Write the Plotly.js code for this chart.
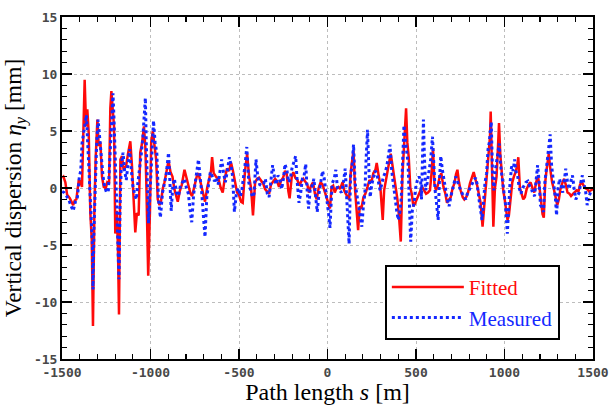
<!DOCTYPE html>
<html>
<head>
<meta charset="utf-8">
<script src="https://cdn.plot.ly/plotly-3.0.1.min.js"></script>
<style>html,body{margin:0;padding:0;background:#fff;}#chart{width:609px;height:405px;}</style>
</head>
<body>
<div id="chart"></div>
<script>
// Fitted vertical dispersion: [path length s (m), eta_y (mm)]
const fitted = [
[-1499,0.9],[-1492,1.0],[-1481,0.5],[-1471,-0.6],[-1456,-0.9],[-1447,-1.2],[-1437,-1.5],[-1428,-1.1],[-1419,-1.0],[-1405,0.7],
[-1398,0.6],[-1387,0.1],[-1379,6.0],[-1372,9.5],[-1364,5.4],[-1357,6.9],[-1349,4.8],[-1340,-2.2],[-1332,-4.5],[-1325,-12.1],
[-1317,-2.0],[-1310,2.5],[-1300,6.0],[-1293,3.7],[-1283,4.0],[-1274,1.0],[-1264,0.1],[-1253,0.0],[-1244,0.5],[-1234,0.4],
[-1227,7.0],[-1221,8.5],[-1214,7.0],[-1206,5.4],[-1199,-4.0],[-1191,-2.0],[-1184,-5.1],[-1178,-11.1],[-1170,2.5],[-1161,2.8],
[-1152,1.6],[-1138,1.9],[-1127,3.0],[-1114,4.1],[-1105,2.0],[-1095,-1.3],[-1086,-3.9],[-1077,-2.2],[-1067,-2.4],[-1058,3.1],
[-1048,3.9],[-1037,5.4],[-1029,3.5],[-1024,0.7],[-1013,-7.7],[-1003,-2.0],[-996,4.0],[-987,5.0],[-977,3.5],[-968,2.5],
[-959,-1.0],[-949,-1.5],[-940,-1.1],[-930,0.0],[-921,0.5],[-908,1.5],[-898,2.4],[-887,1.4],[-876,1.0],[-865,-0.1],
[-855,-0.6],[-846,-1.2],[-835,-0.3],[-823,0.3],[-808,1.6],[-797,0.9],[-786,0.3],[-774,-0.5],[-765,-0.7],[-752,0.2],
[-739,1.0],[-729,1.3],[-718,0.5],[-705,-0.4],[-692,-1.2],[-680,0.0],[-669,0.8],[-658,1.5],[-652,2.7],[-643,1.3],
[-630,1.0],[-616,0.8],[-603,0.0],[-592,-0.4],[-581,0.8],[-568,1.7],[-556,1.5],[-545,2.2],[-534,1.5],[-522,0.5],
[-511,-0.4],[-500,-0.6],[-489,-1.2],[-479,-1.3],[-466,1.5],[-454,3.0],[-443,1.0],[-432,0.0],[-421,-2.4],[-409,0.5],
[-398,0.8],[-387,0.9],[-375,0.6],[-364,0.4],[-353,-0.1],[-342,-0.3],[-330,-0.5],[-319,0.3],[-308,0.5],[-296,0.8],
[-285,0.6],[-274,0.1],[-263,0.6],[-251,0.9],[-240,1.5],[-231,1.3],[-221,-0.3],[-214,-0.9],[-202,1.0],[-193,1.4],
[-182,0.9],[-170,0.7],[-159,0.2],[-148,0.6],[-137,0.8],[-125,0.5],[-114,0.3],[-105,-0.4],[-93,0.2],[-82,0.5],
[-71,-0.5],[-61,-1.0],[-50,0.0],[-39,0.5],[-28,0.3],[-16,-0.3],[-7,-0.7],[4,-1.3],[14,-1.8],[23,0.1],
[32,0.2],[41,-0.4],[51,0.0],[62,0.1],[71,-0.1],[85,0.5],[94,-0.2],[103,-0.5],[113,-0.8],[122,-1.0],
[132,1.5],[141,2.8],[147,3.3],[156,-0.2],[165,-2.5],[173,-3.7],[182,-1.6],[192,-1.8],[203,-0.8],[214,-0.5],
[226,0.1],[237,0.7],[248,0.5],[259,1.3],[271,1.6],[278,2.2],[288,1.2],[297,0.4],[306,-1.5],[312,-2.8],
[320,-0.2],[331,0.8],[340,1.3],[350,2.5],[357,3.0],[367,2.0],[376,1.0],[385,0.1],[395,-1.0],[404,-2.5],
[414,-4.7],[423,1.0],[431,3.0],[438,5.0],[444,7.0],[451,4.0],[459,2.7],[468,0.0],[476,-0.5],[485,-1.6],
[494,-1.4],[504,-1.0],[515,-0.6],[526,-0.2],[534,0.1],[546,-0.2],[557,-0.5],[568,-0.4],[579,-0.2],[589,1.5],
[596,3.5],[604,0.4],[613,-0.2],[623,0.2],[634,1.0],[643,1.3],[655,0.1],[666,-0.5],[675,-1.3],[687,-1.0],
[696,-0.8],[707,0.0],[717,0.4],[726,1.2],[734,1.6],[743,0.5],[752,-0.2],[764,-0.8],[773,-1.0],[784,-0.8],
[794,-0.4],[805,0.4],[816,1.0],[826,1.4],[835,0.8],[846,0.2],[856,-0.6],[865,-1.3],[876,-3.4],[884,-2.0],
[893,-0.2],[903,1.5],[910,2.7],[918,4.5],[922,6.7],[929,1.0],[937,-3.4],[946,0.0],[955,1.0],[963,3.5],
[969,5.7],[976,3.0],[984,1.3],[993,-0.2],[1001,-1.0],[1010,-1.8],[1017,-2.8],[1025,-2.4],[1034,-1.0],[1044,0.5],
[1053,1.0],[1063,1.4],[1072,2.0],[1078,2.7],[1087,0.0],[1096,-0.5],[1106,-1.0],[1115,-0.8],[1125,-0.1],[1136,0.3],
[1147,0.5],[1158,0.0],[1168,-0.4],[1179,0.5],[1189,1.1],[1198,0.0],[1207,-1.0],[1215,-2.3],[1222,-2.6],[1230,0.5],
[1237,1.5],[1245,2.7],[1250,3.0],[1260,1.5],[1269,0.5],[1279,-0.1],[1288,-0.8],[1298,-1.5],[1307,-1.0],[1316,-0.1],
[1328,0.5],[1337,0.8],[1346,0.3],[1356,-0.4],[1367,-0.5],[1376,-0.7],[1388,-0.5],[1397,-0.4],[1408,-0.2],[1418,-0.3],
[1427,0.3],[1437,0.5],[1446,0.2],[1455,0.0],[1467,-0.1],[1478,-0.3],[1489,-0.2],[1500,-0.1]
];

// Measured vertical dispersion: [path length s (m), eta_y (mm)]
const measured = [
[-1499,-0.3],[-1488,-0.4],[-1475,-0.7],[-1462,-1.0],[-1451,-1.5],[-1437,-2.0],[-1424,-1.2],[-1413,-0.8],[-1402,1.0],[-1394,1.5],
[-1387,3.9],[-1377,4.8],[-1368,5.5],[-1362,6.4],[-1355,4.0],[-1349,1.5],[-1342,-1.0],[-1334,-3.0],[-1328,-5.1],[-1325,-8.9],
[-1319,-3.4],[-1311,1.6],[-1304,4.0],[-1296,6.0],[-1287,4.2],[-1278,3.2],[-1268,1.0],[-1259,0.1],[-1248,-0.4],[-1238,-0.2],
[-1229,3.0],[-1221,5.4],[-1212,8.3],[-1206,6.0],[-1199,2.5],[-1191,-1.0],[-1185,-3.9],[-1178,-8.0],[-1172,-1.6],[-1165,2.0],
[-1155,3.1],[-1146,1.5],[-1137,0.7],[-1127,2.0],[-1118,3.4],[-1108,1.5],[-1099,0.1],[-1090,-0.5],[-1080,-1.0],[-1071,0.5],
[-1061,1.6],[-1052,3.0],[-1043,4.5],[-1035,6.5],[-1029,7.9],[-1024,4.0],[-1018,0.7],[-1011,-3.1],[-1003,-0.5],[-991,4.0],
[-983,5.9],[-974,4.0],[-964,3.0],[-955,-1.0],[-944,-2.6],[-932,-0.4],[-921,0.5],[-912,1.1],[-898,3.1],[-891,0.5],
[-883,-2.0],[-874,0.2],[-865,0.8],[-853,-0.4],[-842,-0.7],[-831,0.2],[-819,0.5],[-808,0.8],[-797,0.0],[-786,-0.5],
[-776,-2.0],[-767,-3.0],[-756,-0.5],[-744,0.8],[-737,1.8],[-729,2.5],[-720,1.0],[-710,-0.5],[-701,-2.5],[-692,-4.3],
[-682,-0.8],[-673,0.3],[-662,1.4],[-650,1.0],[-639,0.6],[-628,0.9],[-618,0.3],[-607,1.5],[-598,2.5],[-586,1.2],
[-577,0.5],[-566,1.5],[-554,2.7],[-545,2.0],[-536,1.0],[-526,-2.1],[-515,-0.5],[-504,0.0],[-492,-0.7],[-484,-0.2],
[-475,0.8],[-466,2.0],[-456,3.6],[-445,0.5],[-436,-0.1],[-424,-0.8],[-415,-0.5],[-404,2.5],[-394,1.0],[-383,0.3],
[-372,0.2],[-360,0.4],[-351,0.8],[-340,-0.5],[-330,-0.8],[-319,1.0],[-310,2.0],[-300,1.0],[-291,0.3],[-280,1.1],
[-270,0.8],[-259,-0.1],[-249,0.8],[-240,2.1],[-229,1.5],[-219,0.5],[-210,0.8],[-201,1.7],[-191,2.2],[-180,2.8],
[-171,0.5],[-161,-1.3],[-152,-0.5],[-142,0.8],[-133,1.0],[-123,2.1],[-114,-0.5],[-107,-1.8],[-97,0.0],[-86,0.2],
[-77,0.8],[-67,-0.8],[-58,-2.1],[-48,-0.5],[-37,0.8],[-28,1.5],[-18,0.8],[-9,-0.2],[1,-1.5],[8,-2.5],
[14,-3.5],[21,-1.0],[26,0.4],[38,0.8],[47,1.6],[56,0.0],[68,-0.2],[79,-0.4],[90,0.5],[100,1.7],
[109,-1.0],[117,-3.0],[122,-4.9],[130,1.0],[139,2.0],[147,3.8],[156,0.4],[165,-0.5],[175,-1.6],[184,-2.5],
[194,-3.4],[203,-1.5],[211,-0.5],[218,2.5],[226,5.1],[233,2.0],[241,-0.8],[250,0.3],[259,1.0],[269,1.5],
[278,1.3],[288,0.5],[297,-0.2],[306,0.3],[316,1.0],[325,1.3],[335,1.9],[344,2.8],[353,3.8],[363,1.5],
[372,0.3],[382,-1.3],[391,-2.0],[400,-2.8],[410,-2.0],[417,-0.8],[425,3.0],[432,5.5],[440,4.2],[447,3.0],
[455,2.2],[462,-1.0],[470,-4.7],[479,-2.0],[489,-1.3],[498,0.0],[508,0.7],[517,1.0],[526,0.7],[531,-1.0],
[538,3.0],[542,6.0],[547,3.0],[555,-0.2],[564,0.5],[574,1.6],[583,2.5],[593,4.5],[600,1.5],[608,-0.2],
[617,-1.5],[625,-2.8],[632,0.5],[640,2.8],[649,1.6],[658,0.5],[668,-0.2],[677,-1.0],[687,-1.6],[696,-0.8],
[705,-0.2],[715,0.5],[724,1.0],[734,0.6],[743,0.1],[752,-0.2],[762,-0.5],[771,-0.8],[781,-1.0],[790,-0.5],
[799,-0.2],[809,0.1],[818,0.4],[828,0.7],[837,0.9],[846,0.3],[856,-1.0],[865,-1.8],[873,-2.8],[880,-1.5],
[890,0.5],[899,1.3],[907,3.4],[914,4.0],[925,5.8],[933,1.0],[940,-0.2],[948,1.5],[955,2.2],[963,3.0],
[970,3.9],[978,2.0],[987,1.0],[997,-0.2],[1006,-1.5],[1016,-4.0],[1023,-1.5],[1031,0.4],[1040,1.9],[1049,1.5],
[1057,2.5],[1064,1.5],[1074,1.1],[1083,0.0],[1093,-0.5],[1102,0.0],[1111,0.2],[1121,0.5],[1132,0.6],[1141,0.2],
[1151,0.0],[1160,-0.5],[1170,-0.7],[1179,1.0],[1187,2.0],[1196,0.5],[1203,-1.5],[1213,-1.8],[1220,-2.1],[1228,0.5],
[1235,1.4],[1243,2.8],[1250,3.5],[1258,4.7],[1266,2.0],[1273,1.1],[1281,0.0],[1288,-1.0],[1294,-2.4],[1303,0.0],
[1311,0.8],[1320,0.3],[1329,-0.4],[1339,0.8],[1346,1.7],[1356,0.5],[1365,-0.1],[1375,0.6],[1384,1.1],[1393,0.0],
[1403,-1.0],[1412,-0.7],[1422,-0.4],[1431,0.5],[1440,1.1],[1450,0.3],[1459,-0.4],[1467,-1.5],[1476,-0.8],[1486,-0.4],[1497,-0.3]
];

const xTickVals = [-1500,-1000,-500,0,500,1000,1500];
const xTickText = ["-1500","-1000","-500","0","500","1000","1500"];
const yTickVals = [-15,-10,-5,0,5,10,15];
const yTickText = ["-15","-10","-5","0","5","10","15"];

const seriesNames = ["Fitted","Measured"];
const seriesColors = ["rgb(255,10,10)","rgb(20,40,255)"];

const tickFont = {family:"DejaVu Sans Mono", size:13, color:"#484848", weight:"bold"};
const serif = "Liberation Serif";

const traces = [
  {x: fitted.map(p=>p[0]), y: fitted.map(p=>p[1]), type:"scatter", mode:"lines",
   name:'<span style="color:'+seriesColors[0]+'">'+seriesNames[0]+'</span>',
   line:{color:seriesColors[0], width:2.5}},
  {x: measured.map(p=>p[0]), y: measured.map(p=>p[1]), type:"scatter", mode:"lines",
   name:'<span style="color:'+seriesColors[1]+'">'+seriesNames[1]+'</span>',
   line:{color:seriesColors[1], width:3, dash:"dot"}}
];

const axisCommon = {
  showline:true, linecolor:"#000", linewidth:2, mirror:"ticks",
  ticks:"inside", ticklen:10, tickwidth:1.5, tickcolor:"#000",
  showgrid:true, gridcolor:"#bdbdbd", griddash:"dot", gridwidth:1,
  zeroline:false, tickfont:tickFont, tickmode:"array"
};

const layout = {
  width:609, height:405,
  margin:{l:62, r:16, t:17, b:46},
  paper_bgcolor:"#fff", plot_bgcolor:"#fff",
  showlegend:true,
  legend:{x:0.608, y:0.275, xanchor:"left", yanchor:"top",
    bgcolor:"#fff", bordercolor:"#000", borderwidth:2,
    font:{family:serif, size:21, color:"#000"}, itemwidth:72, tracegroupgap:0},
  xaxis: Object.assign({}, axisCommon, {
    range:[-1500,1500], tickvals:xTickVals, ticktext:xTickText,
    minor:{ticks:"inside", ticklen:5, tickwidth:1.2, tickcolor:"#000", dtick:100, tick0:-1500, showgrid:false},
    title:{text:"Path length <i>s</i> [m]", font:{family:serif, size:24, color:"#000"}, standoff:5}
  }),
  yaxis: Object.assign({}, axisCommon, {
    range:[-15,15], tickvals:yTickVals, ticktext:yTickText,
    minor:{ticks:"inside", ticklen:5, tickwidth:1.2, tickcolor:"#000", dtick:1, tick0:-15, showgrid:false},
    title:{text:"Vertical dispersion <i>η</i><sub><i>y</i></sub> [mm]", font:{family:serif, size:23.5, color:"#000"}, standoff:8}
  })
};

Plotly.newPlot("chart", traces, layout, {displayModeBar:false, staticPlot:true});
</script>
</body>
</html>
